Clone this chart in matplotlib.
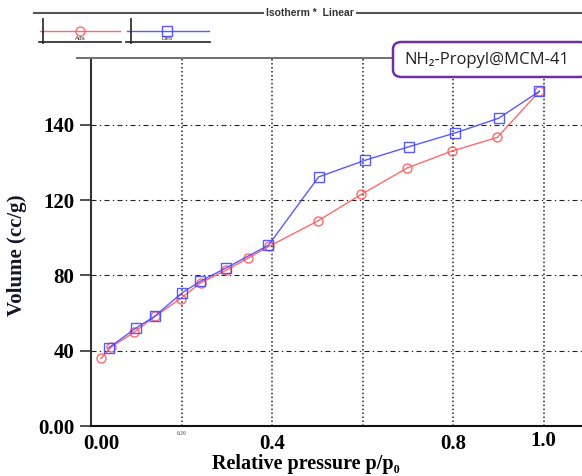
import matplotlib
matplotlib.use("Agg")
import matplotlib.pyplot as plt
from matplotlib.lines import Line2D
from matplotlib.patches import FancyBboxPatch
from matplotlib.transforms import ScaledTranslation

# ---------------- data ----------------
series_names = ["Ads", "Des"]
ads_p = [0.022, 0.045, 0.095, 0.142, 0.198, 0.242, 0.299, 0.346, 0.394, 0.501, 0.597, 0.699, 0.797, 0.898, 0.991]
ads_v = [35.9, 42.0, 49.7, 58.3, 67.7, 76.0, 82.8, 89.0, 95.5, 108.9, 123.0, 137.1, 146.0, 153.3, 177.8]
des_p = [0.039, 0.100, 0.142, 0.201, 0.241, 0.299, 0.392, 0.503, 0.606, 0.702, 0.805, 0.901, 0.991]
des_v = [41.5, 52.1, 58.5, 70.7, 76.8, 84.0, 96.0, 132.3, 141.2, 148.3, 155.7, 163.5, 177.8]

xtick_vals = [0.0, 0.2, 0.4, 0.6, 0.8, 1.0]
xtick_labels = ["0.00", "0.20", "0.4", "", "0.8", "1.0"]
ytick_vals = [0, 40, 80, 120, 160]
ytick_labels = ["0.00", "40", "80", "120", "140"]

title_text = "Isotherm *  Linear"
sample_text = "NH\u2082-Propyl@MCM-41"
xlabel_text = "Relative pressure p/p\u2080"
ylabel_text = "Volume (cc/g)"

RED = "#ff5a5a"
BLUE = "#4848ff"

W, H = 582, 476
fig = plt.figure(figsize=(W / 100, H / 100), dpi=100)

def fx(px):
    return px / W

def fy(py):
    return 1 - py / H

# axes placement (pixels)
L, R, T, B = 91, 582, 57.5, 426
ax = fig.add_axes([fx(L), fy(B), fx(R) - fx(L), fy(T) - fy(B)])
ax.set_xlim(0, (R - L) / 452.5)
ax.set_ylim(0, (B - T) / 75.3 * 40)

serif = ["Liberation Serif", "DejaVu Serif"]

# grid
for yv in ytick_vals[1:]:
    ax.axhline(yv, color="#222222", lw=0.8, linestyle=(0, (4.5, 3, 1.2, 3)), zorder=1)
for xv in xtick_vals[1:]:
    ax.axvline(xv, color="#222222", lw=1.1, linestyle=(0, (1, 1.6)), zorder=1)

# series
ax.plot(ads_p, ads_v, color=RED, lw=1.0, marker="o", markersize=6.5,
        markerfacecolor="none", markeredgewidth=1.0, zorder=3, alpha=0.9)
ax.plot(des_p, des_v, color=BLUE, lw=1.0, marker="s", markersize=6.5,
        markerfacecolor="none", markeredgewidth=1.0, zorder=4, alpha=0.9)

# spines
ax.spines["right"].set_visible(False)
ax.spines["top"].set_color("#707070")
ax.spines["top"].set_linewidth(1.4)
ax.spines["left"].set_color("#333333")
ax.spines["left"].set_linewidth(1.5)
ax.spines["bottom"].set_color("#111111")
ax.spines["bottom"].set_linewidth(1.5)
# top frame extends a little left of the y axis
fig.add_artist(Line2D([fx(77), fx(L)], [fy(T), fy(T)], color="#707070", lw=1.4))

# y ticks
ax.set_yticks(ytick_vals)
ax.set_yticklabels(ytick_labels, fontfamily=serif, fontweight="bold", fontsize=15)
ax.tick_params(axis="y", direction="out", length=8, width=1.2, color="#333333", pad=4)

# x ticks
ax.set_xticks(xtick_vals)
ax.set_xticklabels(xtick_labels, fontfamily=serif, fontweight="bold", fontsize=15)
ax.tick_params(axis="x", length=0, pad=6)
xl = ax.get_xticklabels()
xl[0].set_transform(xl[0].get_transform() + ScaledTranslation(10 / 100, 0, fig.dpi_scale_trans))
xl[1].set_fontsize(4)
xl[1].set_color("#777777")
xl[1].set_transform(xl[1].get_transform() + ScaledTranslation(0, 3 / 100, fig.dpi_scale_trans))
xl[5].set_transform(xl[5].get_transform() + ScaledTranslation(0, 3 / 100, fig.dpi_scale_trans))

# axis labels
ax.set_xlabel(xlabel_text, fontfamily=serif, fontweight="bold", fontsize=14.5)
ax.xaxis.label.set_verticalalignment("center")
ax.xaxis.set_label_coords((305.5 - L) / (R - L), -(464 - B) / (B - T))
ax.set_ylabel(ylabel_text, fontfamily=serif, fontweight="bold", fontsize=15, color="#14142a")
ax.yaxis.label.set_verticalalignment("center")
ax.yaxis.set_label_coords((17 - L) / (R - L), (B - 255) / (B - T))

# header line with title
fig.add_artist(Line2D([fx(34), fx(582)], [fy(13.3), fy(13.3)], color="#555555", lw=1.5))
fig.text(fx(310), fy(13.3), title_text, ha="center", va="center", fontsize=7.5,
         fontweight="bold", family=["Liberation Sans", "DejaVu Sans"], color="#333333",
         bbox=dict(facecolor="white", edgecolor="none", pad=1.5))

# legend boxes
leg_specs = [(40, 120, 42.7, 80, RED, "o"), (127, 209, 131, 167, BLUE, "s")]
for name, (x0, x1, xv, xm, col, mk) in zip(series_names, leg_specs):
    fig.add_artist(Line2D([fx(x0), fx(x1)], [fy(31), fy(31)], color=col, lw=1.0, alpha=0.9))
    fig.add_artist(Line2D([fx(xm)], [fy(31)], color=col, marker=mk, markersize=6.5,
                          markerfacecolor="none", markeredgewidth=1.0, alpha=0.9))
    fig.add_artist(Line2D([fx(xv), fx(xv)], [fy(19), fy(43)], color="#333333", lw=1.3))
    fig.add_artist(Line2D([fx(x0 - 1), fx(x1 + 1)], [fy(42.3), fy(42.3)], color="#222222", lw=1.2))
    fig.text(fx(xm), fy(39), name, ha="center", va="center", fontsize=4.5,
             family=["Liberation Sans", "DejaVu Sans"], color="#333333")

# sample box
box = FancyBboxPatch((fx(393), fy(77)), fx(195), fy(42) - fy(77),
                     boxstyle="round,pad=0,rounding_size=0.015",
                     transform=fig.transFigure, facecolor="white",
                     edgecolor="#7030a0", lw=1.8, zorder=10)
fig.add_artist(box)
fig.text(fx(487), fy(60), sample_text, ha="center", va="center", fontsize=12,
         family=["Open Sans", "DejaVu Sans"], color="#222222", zorder=11)

fig.savefig("out.png", dpi=100)
